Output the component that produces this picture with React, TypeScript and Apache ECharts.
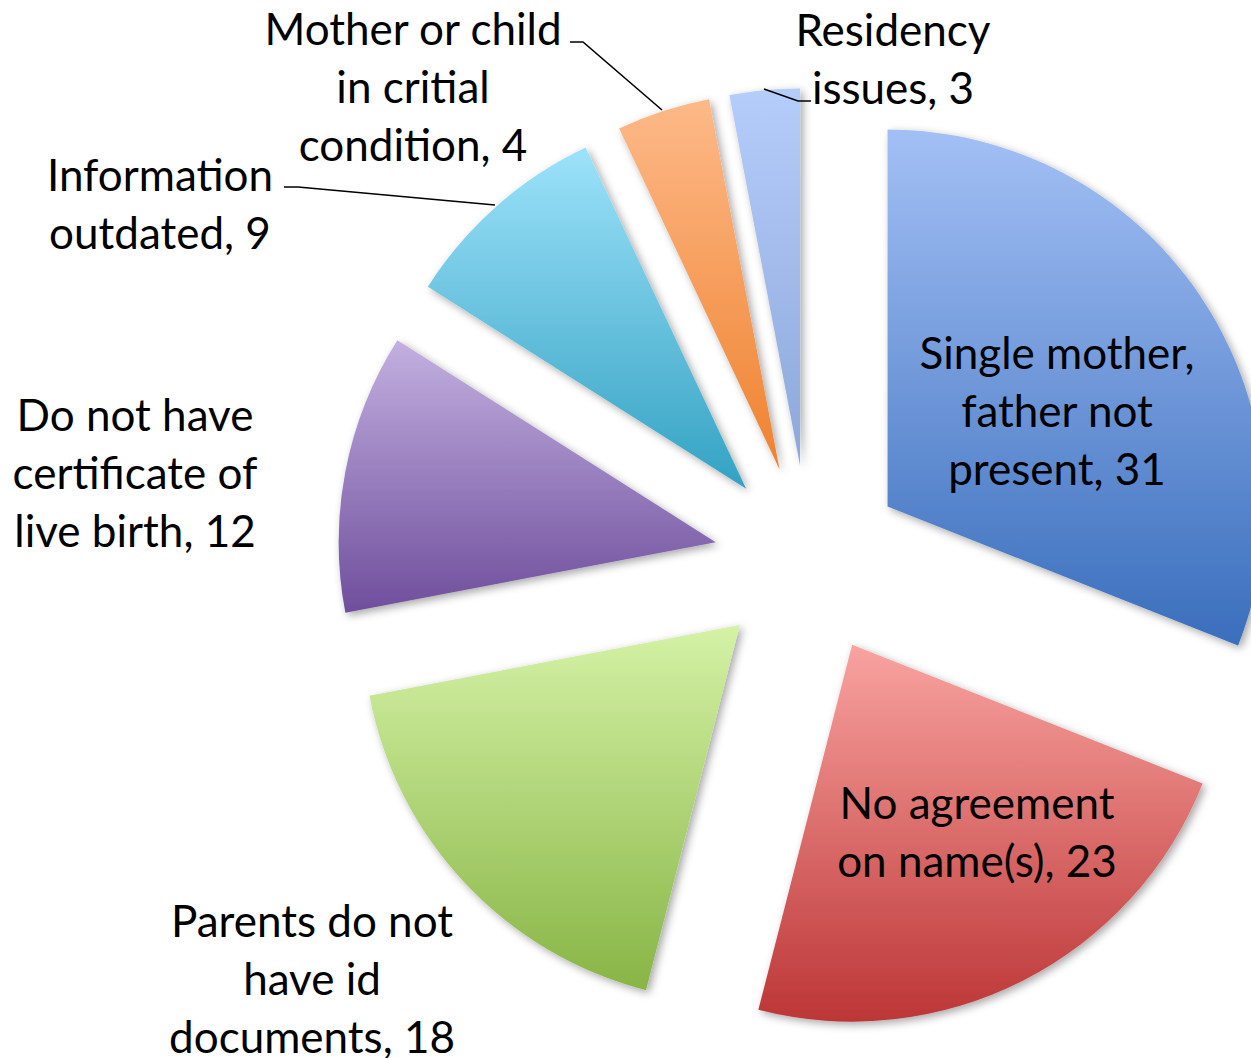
import React, { useEffect, useRef } from "react";
import * as echarts from "echarts";

const categories = [
  "Single mother,\nfather not\npresent",
  "No agreement\non name(s)",
  "Parents do not\nhave id\ndocuments",
  "Do not have\ncertificate of\nlive birth",
  "Information\noutdated",
  "Mother or child\nin critial\ncondition",
  "Residency\nissues",
];
const values = [31, 23, 18, 12, 9, 4, 3];

const topColors = ["#a3c0f5", "#f9a3a0", "#d5f2a6", "#c3b0e0", "#9de2fa", "#fdb988", "#b5cdfa"];
const bottomColors = ["#3a6ebc", "#bc3636", "#88b546", "#6e4e9c", "#33a2c2", "#ef8230", "#8ca7da"];

// label block centers (px) and leader line points
const labelCenters: [number, number][] = [
  [1057, 410],
  [977, 831],
  [312, 978],
  [135, 472],
  [160, 203],
  [413, 86],
  [893, 58],
];
const leaderLines: ([number, number][] | null)[] = [
  null,
  null,
  null,
  null,
  [[495, 205], [298, 187], [284, 187]],
  [[662, 110], [583, 42], [570, 42]],
  [[764, 89], [798, 101], [811, 101]],
];

export default function App() {
  const ref = useRef<HTMLDivElement>(null);
  useEffect(() => {
    if (!ref.current) return;
    const chart = echarts.init(ref.current, null, { renderer: "svg" });
    const sliceData = categories.map((name, i) => ({
      name,
      value: values[i],
      selected: true,
      itemStyle: {
        color: new echarts.graphic.LinearGradient(0, 0, 0, 1, [
          { offset: 0, color: topColors[i] },
          { offset: 1, color: bottomColors[i] },
        ]),
      },
    }));
    const labelData = categories.map((name, i) => ({
      name,
      value: values[i],
      labelLine: { show: !!leaderLines[i] },
    }));
    const common = {
      type: "pie",
      center: [809, 560],
      radius: 377,
      startAngle: 90,
      clockwise: true,
      avoidLabelOverlap: false,
      emphasis: { disabled: true },
    };
    chart.setOption({
      animation: false,
      series: [
        {
          ...common,
          z: 2,
          selectedMode: "multiple",
          selectedOffset: 95,
          select: { disabled: false, itemStyle: {} },
          silent: true,
          itemStyle: {
            shadowBlur: 8,
            shadowOffsetX: 3,
            shadowOffsetY: 3,
            shadowColor: "rgba(0,0,0,0.35)",
          },
          label: { show: false },
          labelLine: { show: false },
          data: sliceData,
        },
        {
          ...common,
          z: 5,
          silent: true,
          selectedMode: false,
          itemStyle: { color: "rgba(0,0,0,0)" },
          label: {
            show: true,
            position: "outside",
            formatter: (p: any) => `${p.name}, ${p.value}`,
            fontFamily: "Lato",
            fontSize: 44,
            lineHeight: 58,
            color: "#000",
            align: "center",
          },
          labelLine: {
            show: true,
            lineStyle: { color: "#000", width: 1.6 },
            length: 10,
            length2: 10,
          },
          labelLayout: (p: any) => {
            const i = p.dataIndex;
            const c = labelCenters[i];
            const res: any = {
              x: c[0],
              y: c[1],
              align: "center",
              verticalAlign: "middle",
            };
            if (leaderLines[i]) res.labelLinePoints = leaderLines[i];
            return res;
          },
          data: labelData,
        },
      ],
    });
    return () => chart.dispose();
  }, []);
  return (
    <div
      ref={ref}
      style={{ position: "absolute", left: 0, top: 0, width: 1251, height: 1058, background: "#fff" }}
    />
  );
}
